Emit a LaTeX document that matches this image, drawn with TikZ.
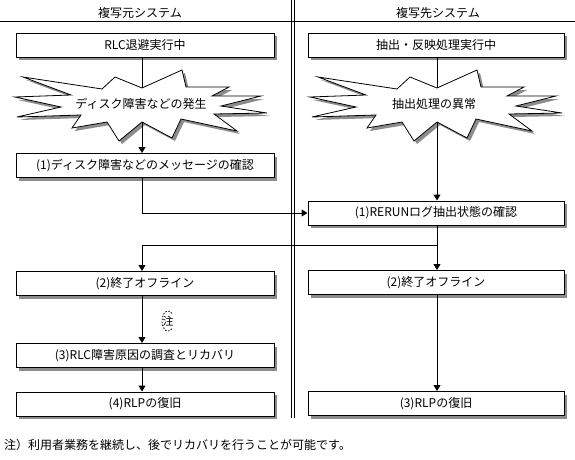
\documentclass[tikz,border=0pt]{standalone}
\usepackage{fontspec}
\setmainfont{Noto Sans CJK JP}
\usetikzlibrary{arrows.meta,shadows,calc}
\def\burstpts{(0,0) -- (40,-18) -- (44,-1) -- (87,-1) -- (70,8) -- (119,8) -- (79,18) -- (125,25) -- (72,26) -- (95,43) -- (39,31) -- (30,50) -- (0,34) -- (-23,53) -- (-35,34) -- (-70,40) -- (-61,27) -- (-125,29) -- (-81,19) -- (-127,9) -- (-71,7) -- (-119,-11) -- (-40,1) -- (-27,-11) -- cycle}
\begin{document}
\begin{tikzpicture}[x=1pt,y=-1pt,
  every node/.style={font=\fontsize{12pt}{14pt}\selectfont, inner sep=0pt, text=black},
  box/.style={draw=black, line width=1pt, fill=white, minimum width=258pt, minimum height=24pt,
    drop shadow={shadow xshift=3pt,shadow yshift=-3pt,fill=black!45,opacity=1}},
  rbox/.style={box, minimum width=256pt},
  conn/.style={line width=1pt},
  arr/.style={conn, -{Triangle[width=7pt,length=6pt]}},
  burst/.style={draw=black, line width=0.8pt, fill=white},
  burstshadow/.style={fill=black!45, draw=none},
  burstpic/.pic={
    \fill[burstshadow, shift={(3,3)}] \burstpts;
    \filldraw[burst] \burstpts;
  }
]
\useasboundingbox (0,0) rectangle (575,459);

% lanes
\draw[line width=1pt] (0,21) -- (575,21);
\draw[line width=1.7pt] (291.5,0) -- (291.5,418);
\draw[line width=1pt] (294.5,0) -- (294.5,418);
\node (h1) at (140,12.5) {複写元システム};
\node (h2) at (438,12.5) {複写先システム};

\coordinate (lc) at (142,0);
\coordinate (rc) at (437,0);

% boxes
\node[box] (a1) at (145,45) {RLC退避実行中};
\node[box] (a2) at (145,165.5) {(1)ディスク障害などのメッセージの確認};
\node[box] (a3) at (145,283.5) {(2)終了オフライン};
\node[box] (a4) at (145,355.5) {(3)RLC障害原因の調査とリカバリ};
\node[box] (a5) at (145,404) {(4)RLPの復旧};
\node[rbox] (b1) at (436,45) {抽出・反映処理実行中};
\node[rbox] (b2) at (436,213) {(1)RERUNログ抽出状態の確認};
\node[rbox] (b3) at (436,282.5) {(2)終了オフライン};
\node[rbox] (b4) at (436,403.5) {(3)RLPの復旧};

% bursts
\coordinate (s1t) at (142,88);
\coordinate (s1b) at (142,122);
\coordinate (s2t) at (437,88);
\coordinate (s2b) at (437,122);
\draw[conn] (a1.south -| lc) -- (s1t);
\draw[conn] (b1.south -| rc) -- (s2t);
\pic at (s1t) {burstpic};
\pic at (s2t) {burstpic};
\node (t1) at (141,104) {ディスク障害などの発生};
\node (t2) at (434,104) {抽出処理の異常};

% connectors
\draw[arr] (s1b) -- (a2.north -| lc);
\draw[arr] (a2.south -| lc) |- (b2.west);
\draw[arr] (s2b) -- (b2.north -| rc);
\draw[arr] (b2.south -| rc) -- (b3.north -| rc);
\coordinate (br) at (437,245);
\draw[arr] (br) -| (a3.north -| lc);
\draw[arr] (a3.south -| lc) -- (a4.north -| lc);
\draw[arr] (a4.south -| lc) -- (a5.north -| lc);
\draw[arr] (b3.south -| rc) -- (b4.north -| rc);

% note mark
\node (nt) at (168,321) {\fontsize{11pt}{12pt}\selectfont 注};
\draw[line width=0.8pt, dash pattern=on 1.5pt off 1.5pt] (nt.center) ++(-50:6 and 10) arc[start angle=-50, end angle=-310, x radius=6, y radius=10];

% footnote
\node[anchor=west] (fn) at (4,445) {注）利用者業務を継続し、後でリカバリを行うことが可能です。};
\end{tikzpicture}
\end{document}
